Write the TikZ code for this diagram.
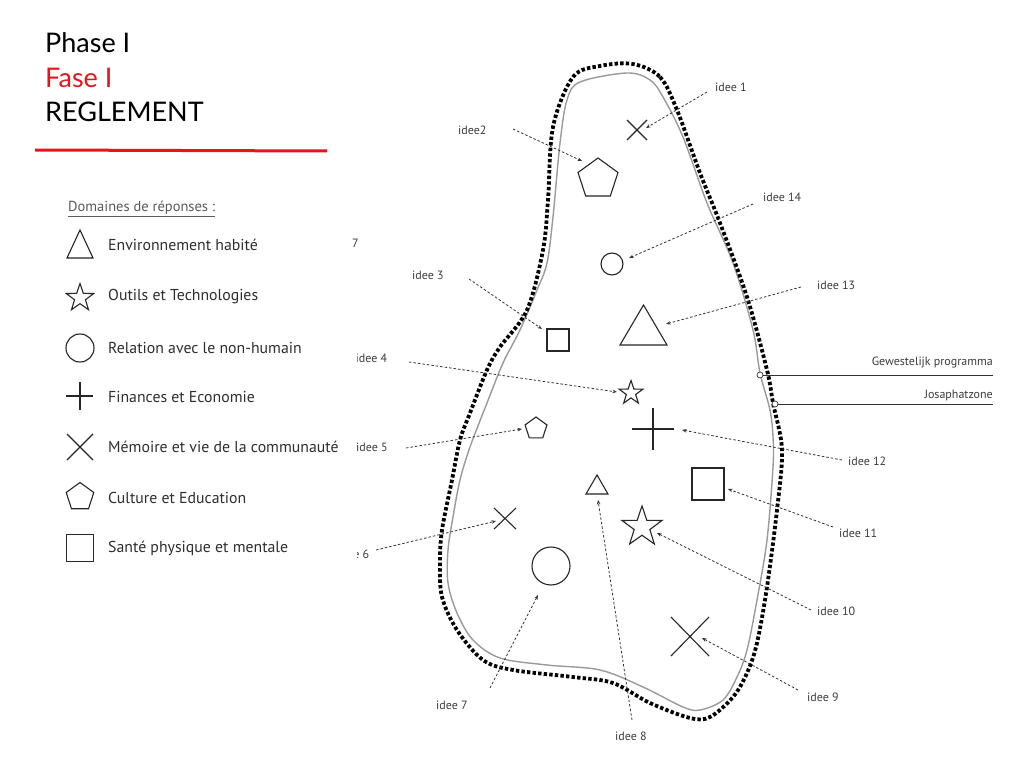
\documentclass[tikz,border=0pt]{standalone}
\usepackage{fontspec}
\setmainfont{PT Sans}
\newfontfamily\headfont{Lato}
\usetikzlibrary{shapes.geometric,arrows.meta}
\definecolor{hdred}{HTML}{E3161B}
\definecolor{outl}{HTML}{9A9A9A}
\definecolor{txt}{HTML}{3C3C3C}
\begin{document}
\begin{tikzpicture}[x=1pt,y=-1pt,
  sym/.style={draw=black!85, line width=1.1pt, inner sep=0pt, outer sep=0pt},
  pent/.style={sym, regular polygon, regular polygon sides=5},
  starsh/.style={sym, star, star points=5, star point ratio=2.55},
  circ/.style={sym, circle},
  sq/.style={sym, rectangle},
  symline/.style={draw=black!85, line width=1.1pt},
  lbl/.style={font=\fontsize{12}{14}\selectfont, text=txt, inner sep=0pt, anchor=west},
  leg/.style={font=\fontsize{15.8}{18}\selectfont, text=black!82, inner sep=0pt, anchor=west},
  head/.style={font=\headfont\fontsize{27}{32}\selectfont, inner sep=0pt, anchor=base west},
  conn/.style={line width=0.8pt, black!80, dash pattern=on 2.5pt off 2pt, -{Stealth[length=4.5pt,width=3.5pt]}},
  dotout/.style={line width=3.8pt, black, dash pattern=on 3.4pt off 2.2pt},
  grayout/.style={line width=1.4pt, outl}
]
\useasboundingbox (0,0) rectangle (1023,767);
\fill[white] (0,0) rectangle (1023,767);

% header
\node[head] (h1) at (45,53) {Phase I};
\node[head, text=hdred] (h2) at (45,88) {Fase I};
\node[head] (h3) at (45,122) {REGLEMENT};
\coordinate (rl1) at (35,150);
\coordinate (rl2) at (327,151);
\draw[hdred, line width=3pt] (rl1) -- (rl2);

% legend
\node[leg, text=black!65, font=\fontsize{14.5}{16}\selectfont] (dom) at (68,209) {\underline{Domaines de réponses :}};
\coordinate (lt) at (80,244);
\draw[symline] (67,258) -- (93,258) -- (80,230) -- cycle;
\node[leg] (t1) at (108,245) {Environnement habité};
\node[starsh, minimum size=29pt] (ls) at (80,298) {};
\node[leg] (t2) at (108,297) {Outils et Technologies};
\node[circ, minimum size=28pt] (lc) at (80,348) {};
\node[leg] (t3) at (108,348) {Relation avec le non-humain};
\coordinate (lp) at (80,396);
\draw[symline] (66,396) -- (93,396) (80,382) -- (80,410);
\node[leg] (t4) at (108,397) {Finances et Economie};
\coordinate (lx) at (80,447);
\draw[symline] (67,434) -- (93,460) (67,460) -- (93,434);
\node[leg] (t5) at (108,447) {Mémoire et vie de la communauté};
\node[pent, minimum size=29pt] (lpe) at (80,497) {};
\node[leg] (t6) at (108,498) {Culture et Education};
\node[sq, minimum size=27pt] (lsq) at (80,548) {};
\node[leg] (t7) at (108,548) {Santé physique et mentale};
\node[lbl] (seven) at (352,243) {7};

% map outlines
\draw[grayout] plot[smooth cycle, tension=0.55] coordinates {(627,73) (650,80) (663,97) (683,137) (707,203) (733,263) (753,330) (760,373) (770,410) (773,437) (773,467) (767,540) (757,600) (747,650) (737,677) (723,700) (700,710) (683,707) (643,687) (600,670) (547,665) (500,658) (473,640) (457,613) (448,583) (448,550) (453,517) (460,480) (470,447) (487,403) (503,363) (520,330) (537,290) (547,263) (553,217) (560,143) (567,100) (580,82)};
\draw[dotout] plot[smooth cycle, tension=0.55] coordinates {(633,64) (660,77) (677,110) (700,173) (720,223) (747,297) (767,370) (773,403) (782,450) (777,510) (767,587) (757,643) (747,673) (733,697) (710,717) (690,718) (650,703) (613,683) (573,677) (513,670) (483,660) (457,630) (442,597) (440,563) (442,530) (452,480) (460,440) (470,413) (487,370) (500,347) (527,310) (543,250) (548,200) (553,127) (573,77) (600,66)};

% zone lines
\node[circle, draw=black!80, fill=white, line width=0.7pt, inner sep=0pt, minimum size=6pt] (gw) at (760,375) {};
\coordinate (gwe) at (993,375);
\draw[black!80, line width=0.9pt] (gw.east) -- (gwe);
\node[lbl, anchor=base east] (gwl) at (993,366) {Gewestelijk programma};
\node[circle, draw=black!80, fill=white, line width=0.7pt, inner sep=0pt, minimum size=6pt] (jz) at (775,404) {};
\coordinate (jze) at (993,404);
\draw[black!80, line width=0.9pt] (jz.east) -- (jze);
\node[lbl, anchor=base east] (jzl) at (993,398) {Josaphatzone};

% symbols in map
\coordinate (s1) at (637,130);
\draw[symline] (627,120) -- (647,140) (627,140) -- (647,120);
\node[pent, minimum size=42pt] (s2) at (598,179) {};
\node[circ, minimum size=22pt] (s14) at (612,264) {};
\coordinate (s13) at (643,325);
\draw[symline] (620,345) -- (667,345) -- (643.5,305) -- cycle;
\node[sq, minimum size=22pt] (s3) at (558,340) {};
\node[starsh, minimum size=25pt] (s4) at (631,393) {};
\coordinate (s12) at (653,429);
\draw[symline] (632,429) -- (674,429) (653,408) -- (653,450);
\node[pent, minimum size=23pt] (s5) at (536,428.5) {};
\coordinate (s8) at (597,485);
\draw[symline] (586,494) -- (608,494) -- (597,475) -- cycle;
\node[sq, minimum size=32pt] (s11) at (708,484) {};
\node[starsh, minimum size=42pt] (s10) at (642,527) {};
\coordinate (s6) at (505,518);
\draw[symline] (494,508) -- (516,529) (494,529) -- (516,508);
\node[circ, minimum size=38pt] (s7) at (551,566) {};
\coordinate (s9) at (690,636);
\draw[symline] (671,617) -- (709,656) (671,656) -- (709,617);

% labels
\node[lbl] (l1) at (715,87) {idee 1};
\node[lbl] (l2) at (458,130) {idee2};
\node[lbl] (l14) at (763,197) {idee 14};
\node[lbl] (l13) at (817,285) {idee 13};
\node[lbl] (l3) at (412,275) {idee 3};
\begin{scope}
\clip (357,0) rectangle (1023,767);
\node[lbl] (l4) at (355.5,358) {idee 4};
\node[lbl] (l5) at (356,447) {idee 5};
\node[lbl] (l6) at (337.5,554) {idee 6};
\end{scope}
\node[lbl] (l7) at (436,705) {idee 7};
\node[lbl] (l8) at (615,736) {idee 8};
\node[lbl] (l9) at (807,697) {idee 9};
\node[lbl] (l10) at (817,611) {idee 10};
\node[lbl] (l11) at (839,533) {idee 11};
\node[lbl] (l12) at (848,461) {idee 12};

% arrow endpoints
\coordinate (a1s) at (707,92);   \coordinate (a1e) at (646,128);
\coordinate (a2s) at (513,129);  \coordinate (a2e) at (582,161);
\coordinate (a14s) at (753,204); \coordinate (a14e) at (629,258);
\coordinate (a13s) at (801,287); \coordinate (a13e) at (666,324);
\coordinate (a3s) at (469,279);  \coordinate (a3e) at (542,329);
\coordinate (a4s) at (409,362);  \coordinate (a4e) at (617,392);
\coordinate (a5s) at (406,448);  \coordinate (a5e) at (522,429);
\coordinate (a6s) at (376,550);  \coordinate (a6e) at (496,521);
\coordinate (a7s) at (490,688);  \coordinate (a7e) at (538,595);
\coordinate (a8s) at (632,720);  \coordinate (a8e) at (598,500);
\coordinate (a9s) at (798,690);  \coordinate (a9e) at (702,638);
\coordinate (a10s) at (811,610); \coordinate (a10e) at (657,533);
\coordinate (a11s) at (833,527); \coordinate (a11e) at (728,489);
\coordinate (a12s) at (842,460); \coordinate (a12e) at (682,430);
\foreach \i in {1,2,3,4,5,6,7,8,9,10,11,12,13,14}{
  \draw[conn] (a\i s) -- (a\i e);
}
\end{tikzpicture}
\end{document}
